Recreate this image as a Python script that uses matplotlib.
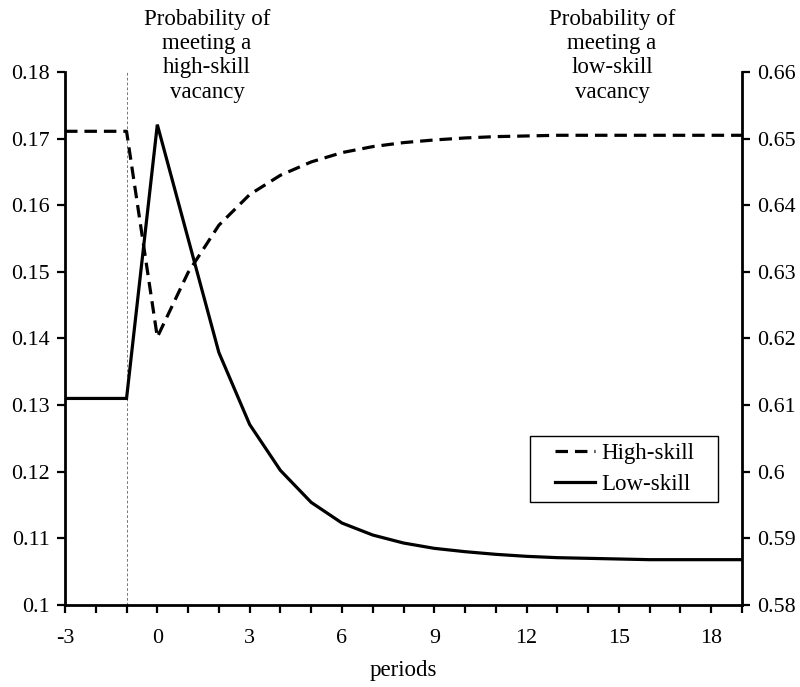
import matplotlib
matplotlib.use("Agg")
import matplotlib.pyplot as plt
from matplotlib.patches import Rectangle
from matplotlib.ticker import MultipleLocator

plt.rcParams["font.family"] = ["Liberation Serif", "DejaVu Serif"]
plt.rcParams["lines.scale_dashes"] = False

periods = list(range(-3, 20))

# Probability of meeting a high-skill vacancy (left axis)
high_skill = [0.1711, 0.1711, 0.1711, 0.1402, 0.1499, 0.1570, 0.1616, 0.1645,
              0.1665, 0.1679, 0.1688, 0.1694, 0.1698, 0.1701, 0.1703, 0.1704,
              0.1705, 0.1705, 0.1705, 0.1705, 0.1705, 0.1705, 0.1705]

# Probability of meeting a low-skill vacancy (right axis)
low_skill = [0.6110, 0.6110, 0.6110, 0.6521, 0.6350, 0.6179, 0.6071, 0.6002,
             0.5954, 0.5923, 0.5905, 0.5893, 0.5885, 0.5880, 0.5876, 0.5873,
             0.5871, 0.5870, 0.5869, 0.5868, 0.5868, 0.5868, 0.5868]

shock_period = -1
left_ticks = [0.10, 0.11, 0.12, 0.13, 0.14, 0.15, 0.16, 0.17, 0.18]
right_ticks = [0.58, 0.59, 0.60, 0.61, 0.62, 0.63, 0.64, 0.65, 0.66]
left_labels = ["0.1", "0.11", "0.12", "0.13", "0.14", "0.15", "0.16", "0.17", "0.18"]
right_labels = ["0.58", "0.59", "0.6", "0.61", "0.62", "0.63", "0.64", "0.65", "0.66"]
x_major = [-3, 0, 3, 6, 9, 12, 15, 18]

fig = plt.figure(figsize=(8.0, 6.87), dpi=100)
ax = fig.add_axes([0.08125, 0.1194, 0.84625, 0.7758])
ax2 = ax.twinx()

fs = 16.5
tick_fs = 15.8
lw = 2.3

ax.axvline(shock_period, color="#777777", lw=0.7, ls=(0, (2, 1.5)), zorder=1)

h1, = ax.plot(periods, high_skill, color="black", lw=lw, dashes=(9, 5),
              label="High-skill", zorder=3)
h2, = ax2.plot(periods, low_skill, color="black", lw=lw, solid_joinstyle="miter",
               label="Low-skill", zorder=3)

ax.set_xlim(-3, 19)
ax.set_ylim(0.10, 0.18)
ax2.set_ylim(0.58, 0.66)

ax.set_xticks(x_major)
ax.set_xticklabels([str(v) for v in x_major])
ax.xaxis.set_minor_locator(MultipleLocator(1))
ax.set_yticks(left_ticks)
ax.set_yticklabels(left_labels)
ax2.set_yticks(right_ticks)
ax2.set_yticklabels(right_labels)

for a in (ax, ax2):
    a.spines["top"].set_visible(False)
    for s in a.spines.values():
        s.set_linewidth(2.0)
    a.tick_params(axis="both", which="both", direction="out", width=1.6,
                  labelsize=tick_fs, length=6, pad=5)
ax.tick_params(axis="x", which="both", pad=11)
ax.spines["right"].set_visible(False)
ax2.spines["left"].set_visible(False)
ax2.spines["bottom"].set_visible(False)

ax.set_xlabel("periods", fontsize=fs, labelpad=9)

fig.text(207 / 800, 1 - 9 / 687,
         "Probability of\nmeeting a\nhigh-skill\nvacancy",
         ha="center", va="top", fontsize=fs, linespacing=1.2)
fig.text(612 / 800, 1 - 9 / 687,
         "Probability of\nmeeting a\nlow-skill\nvacancy",
         ha="center", va="top", fontsize=fs, linespacing=1.2)

# legend box drawn separately so its padding can be wider than tall
ax2.add_patch(Rectangle((0.6869, 0.1932), 0.2777, 0.1238, transform=ax2.transAxes,
                        facecolor="white", edgecolor="black", lw=1.0, zorder=4))
leg = ax2.legend(handles=[h1, h2], loc="upper left",
                 bbox_to_anchor=(0.7238, 0.304),
                 fontsize=fs, frameon=False,
                 handlelength=1.75, handletextpad=0.26, borderpad=0,
                 labelspacing=0.44, borderaxespad=0)
leg.set_zorder(5)

fig.savefig("out.png", dpi=100)
